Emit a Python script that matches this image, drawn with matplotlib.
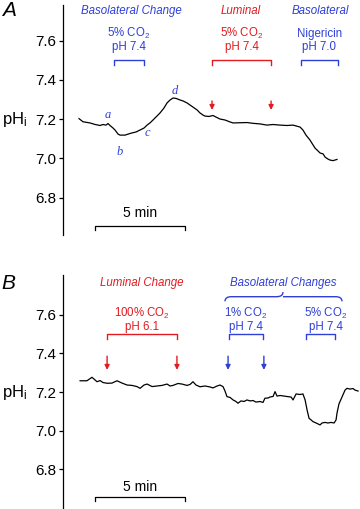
import matplotlib
matplotlib.use('Agg')
import matplotlib.pyplot as plt
from matplotlib.path import Path
from matplotlib.patches import PathPatch

plt.rcParams['font.family'] = ['Liberation Sans', 'DejaVu Sans']
plt.rcParams['mathtext.fontset'] = 'custom'
plt.rcParams['mathtext.rm'] = 'Liberation Sans'
plt.rcParams['mathtext.it'] = 'Liberation Sans:italic'

BLUE = '#2e3fd8'
RED = '#e11b1f'

# ---- panel A trace (time in min, pHi)
time_a = [0.00, 0.22, 0.61, 0.90, 1.17, 1.33, 1.50, 1.61, 1.72, 1.89, 2.00, 2.17, 2.28,
          2.56, 2.72, 2.94, 3.17, 3.39, 3.61, 3.78, 3.94, 4.11, 4.33, 4.50, 4.72, 4.89,
          5.06, 5.22, 5.39, 5.61, 5.78, 6.00, 6.17, 6.33, 6.56, 6.72, 6.89, 7.00, 7.22,
          7.44, 7.61, 7.83, 8.11, 8.39, 8.56, 8.94, 9.33, 9.67, 10.06, 10.44, 10.78,
          11.17, 11.56, 11.89, 12.28, 12.44, 12.61, 12.83, 13.00, 13.11, 13.28, 13.39,
          13.56, 13.67, 13.83, 13.94, 14.11, 14.33]
ph_a = [7.202, 7.186, 7.180, 7.172, 7.167, 7.172, 7.169, 7.177, 7.167, 7.154, 7.144,
        7.123, 7.118, 7.118, 7.123, 7.129, 7.134, 7.144, 7.154, 7.169, 7.180, 7.195,
        7.215, 7.231, 7.256, 7.282, 7.297, 7.307, 7.305, 7.297, 7.292, 7.282, 7.271,
        7.261, 7.246, 7.231, 7.220, 7.215, 7.213, 7.218, 7.210, 7.200, 7.195, 7.185,
        7.180, 7.181, 7.182, 7.178, 7.175, 7.169, 7.172, 7.169, 7.167, 7.169, 7.159,
        7.144, 7.118, 7.093, 7.068, 7.052, 7.037, 7.027, 7.022, 7.006, 6.996, 6.991,
        6.988, 6.994]

# ---- panel B trace
time_b = [0.06, 0.44, 0.72, 0.89, 1.00, 1.17, 1.33, 1.56, 1.83, 2.11, 2.39, 2.67, 2.94,
          3.22, 3.39, 3.61, 3.78, 4.06, 4.33, 4.61, 4.89, 5.06, 5.22, 5.50, 5.72, 6.00,
          6.17, 6.33, 6.50, 6.72, 7.00, 7.28, 7.44, 7.67, 7.83, 8.00, 8.11, 8.22, 8.39,
          8.56, 8.72, 8.83, 9.00, 9.17, 9.33, 9.50, 9.67, 9.83, 10.06, 10.22, 10.33,
          10.50, 10.61, 10.78, 10.89, 11.00, 11.17, 11.39, 11.61, 11.78, 11.89, 12.06,
          12.28, 12.44, 12.56, 12.67, 12.78, 12.89, 13.00, 13.17, 13.28, 13.39, 13.50,
          13.67, 13.83, 14.00, 14.17, 14.28, 14.33, 14.44, 14.61, 14.78, 14.89, 15.06,
          15.22, 15.33, 15.50]
ph_b = [7.258, 7.258, 7.276, 7.262, 7.253, 7.259, 7.249, 7.245, 7.246, 7.258, 7.246,
        7.236, 7.234, 7.228, 7.219, 7.236, 7.241, 7.228, 7.231, 7.234, 7.241, 7.231,
        7.234, 7.244, 7.241, 7.234, 7.239, 7.253, 7.236, 7.227, 7.231, 7.226, 7.221,
        7.231, 7.236, 7.228, 7.205, 7.176, 7.172, 7.159, 7.151, 7.142, 7.154, 7.151,
        7.159, 7.154, 7.156, 7.148, 7.151, 7.146, 7.168, 7.169, 7.174, 7.177, 7.202,
        7.179, 7.182, 7.179, 7.176, 7.174, 7.159, 7.190, 7.187, 7.190, 7.159, 7.107,
        7.064, 7.056, 7.047, 7.040, 7.035, 7.030, 7.040, 7.043, 7.040, 7.043, 7.040,
        7.056, 7.090, 7.138, 7.174, 7.210, 7.219, 7.215, 7.218, 7.210, 7.205]

yticks = [6.8, 7.0, 7.2, 7.4, 7.6]
ytick_labels = ['6.8', '7.0', '7.2', '7.4', '7.6']

# events: (start, end) in min
a_baso = (1.94, 3.61)
a_lum = (7.39, 10.67)
a_nig = (12.33, 14.39)
b_lum = (1.56, 5.44)
b_baso1 = (8.33, 10.22)
b_baso2 = (12.61, 14.22)
b_brace = (8.11, 14.61)
scale_bar = (0.89, 5.89)

fig = plt.figure(figsize=(3.6, 5.09), dpi=100)
axA = fig.add_axes([63 / 360, 1 - 235 / 509, 297 / 360, 230 / 509])
axB = fig.add_axes([63 / 360, 0, 297 / 360, 234 / 509])

for ax, ylo, yhi in [(axA, 6.609, 7.781), (axB, 6.596, 7.804)]:
    ax.set_xlim(-0.89, 15.61)
    ax.set_ylim(ylo, yhi)
    for s in ['top', 'right', 'bottom']:
        ax.spines[s].set_visible(False)
    ax.spines['left'].set_linewidth(0.9)
    ax.set_xticks([])
    ax.set_yticks(yticks)
    ax.set_yticklabels(ytick_labels)
    ax.tick_params(axis='y', direction='out', length=3, width=0.9, pad=1.5, labelsize=11)
    ax.patch.set_visible(False)

axA.plot(time_a, ph_a, color='black', lw=0.9)
axB.plot(time_b, ph_b, color='black', lw=0.9)


def bracket(ax, span, y, color, dy=0.025):
    ax.plot([span[0], span[0], span[1], span[1]], [y - dy, y, y, y - dy],
            color=color, lw=1.0, clip_on=False)


def arrow(ax, t, y0, y1, color):
    ax.annotate('', xy=(t, y1), xytext=(t, y0),
                arrowprops=dict(arrowstyle='-|>', color=color, lw=1.0,
                                mutation_scale=7, shrinkA=0, shrinkB=0))


def scalebar(ax, y, ytxt):
    ax.plot([scale_bar[0], scale_bar[0], scale_bar[1], scale_bar[1]],
            [y - 0.02, y, y, y - 0.02], color='black', lw=0.9, clip_on=False)
    ax.text(sum(scale_bar) / 2, ytxt, '5 min', ha='center', va='center', fontsize=10)


def two_lines(ax, t, y1, y2, l1, l2, color):
    ax.text(t, y1, l1, ha='center', va='baseline', fontsize=8.3, color=color)
    ax.text(t, y2, l2, ha='center', va='baseline', fontsize=8.3, color=color)


co2 = 'CO$_\\mathregular{2}$'

# ---- panel A annotations
axA.text(-4.3, 7.755, 'A', fontsize=15, style='italic', ha='left', va='center')
axA.text(-3.6, 7.2, 'pH$_\\mathregular{i}$', fontsize=12, ha='center', va='center')
axA.text(2.9, 7.75, 'Basolateral Change', style='italic', fontsize=8.3, color=BLUE,
         ha='center', va='center')
axA.text(9.0, 7.75, 'Luminal', style='italic', fontsize=8.3, color=RED,
         ha='center', va='center')
axA.text(13.4, 7.75, 'Basolateral', style='italic', fontsize=8.3, color=BLUE,
         ha='center', va='center')
two_lines(axA, sum(a_baso) / 2, 7.618, 7.552, '5% ' + co2, 'pH 7.4', BLUE)
two_lines(axA, sum(a_lum) / 2, 7.618, 7.552, '5% ' + co2, 'pH 7.4', RED)
two_lines(axA, sum(a_nig) / 2, 7.618, 7.552, 'Nigericin', 'pH 7.0', BLUE)
bracket(axA, a_baso, 7.50, BLUE)
bracket(axA, a_lum, 7.50, RED)
bracket(axA, a_nig, 7.50, BLUE)
arrow(axA, a_lum[0], 7.292, 7.246, RED)
arrow(axA, a_lum[1], 7.292, 7.246, RED)
for lab, t, y in [('a', 1.61, 7.22), ('b', 2.28, 7.03), ('c', 3.78, 7.13), ('d', 5.33, 7.345)]:
    axA.text(t, y, lab, fontsize=9, style='italic', family='Liberation Serif',
             color=BLUE, ha='center', va='center')
scalebar(axA, 6.655, 6.721)

# ---- panel B annotations
axB.text(-4.3, 7.762, 'B', fontsize=15, style='italic', ha='left', va='center')
axB.text(-3.6, 7.2, 'pH$_\\mathregular{i}$', fontsize=12, ha='center', va='center')
axB.text(sum(b_lum) / 2, 7.762, 'Luminal Change', style='italic', fontsize=8.3,
         color=RED, ha='center', va='center')
axB.text(11.33, 7.762, 'Basolateral Changes', style='italic', fontsize=8.3,
         color=BLUE, ha='center', va='center')
two_lines(axB, sum(b_lum) / 2, 7.587, 7.522, '100% ' + co2, 'pH 6.1', RED)
two_lines(axB, sum(b_baso1) / 2, 7.587, 7.522, '1% ' + co2, 'pH 7.4', BLUE)
two_lines(axB, sum(b_baso2) / 2 + 0.3, 7.587, 7.522, '5% ' + co2, 'pH 7.4', BLUE)
bracket(axB, b_lum, 7.499, RED)
bracket(axB, b_baso1, 7.499, BLUE)
bracket(axB, b_baso2, 7.499, BLUE)
arrow(axB, b_lum[0], 7.385, 7.314, RED)
arrow(axB, b_lum[1], 7.385, 7.314, RED)
arrow(axB, b_baso1[0] - 0.05, 7.385, 7.314, BLUE)
arrow(axB, b_baso1[1] + 0.05, 7.385, 7.314, BLUE)

# curly brace over the basolateral changes
x0, x1 = b_brace
xm = 11.33
yl, ym, yh = 7.668, 7.692, 7.716
r = 0.35
verts = [(x0, yl), (x0, ym), (x0 + r, ym), (xm - r, ym), (xm, ym), (xm, yh),
         (xm, ym), (xm + r, ym), (x1 - r, ym), (x1, ym), (x1, yl)]
codes = [Path.MOVETO, Path.CURVE3, Path.CURVE3, Path.LINETO, Path.CURVE3, Path.CURVE3,
         Path.MOVETO, Path.CURVE3, Path.LINETO, Path.CURVE3, Path.CURVE3]
axB.add_patch(PathPatch(Path(verts, codes), fill=False, edgecolor=BLUE, lw=1.0,
                        clip_on=False))
scalebar(axB, 6.658, 6.708)

fig.savefig('out.png', dpi=100)
